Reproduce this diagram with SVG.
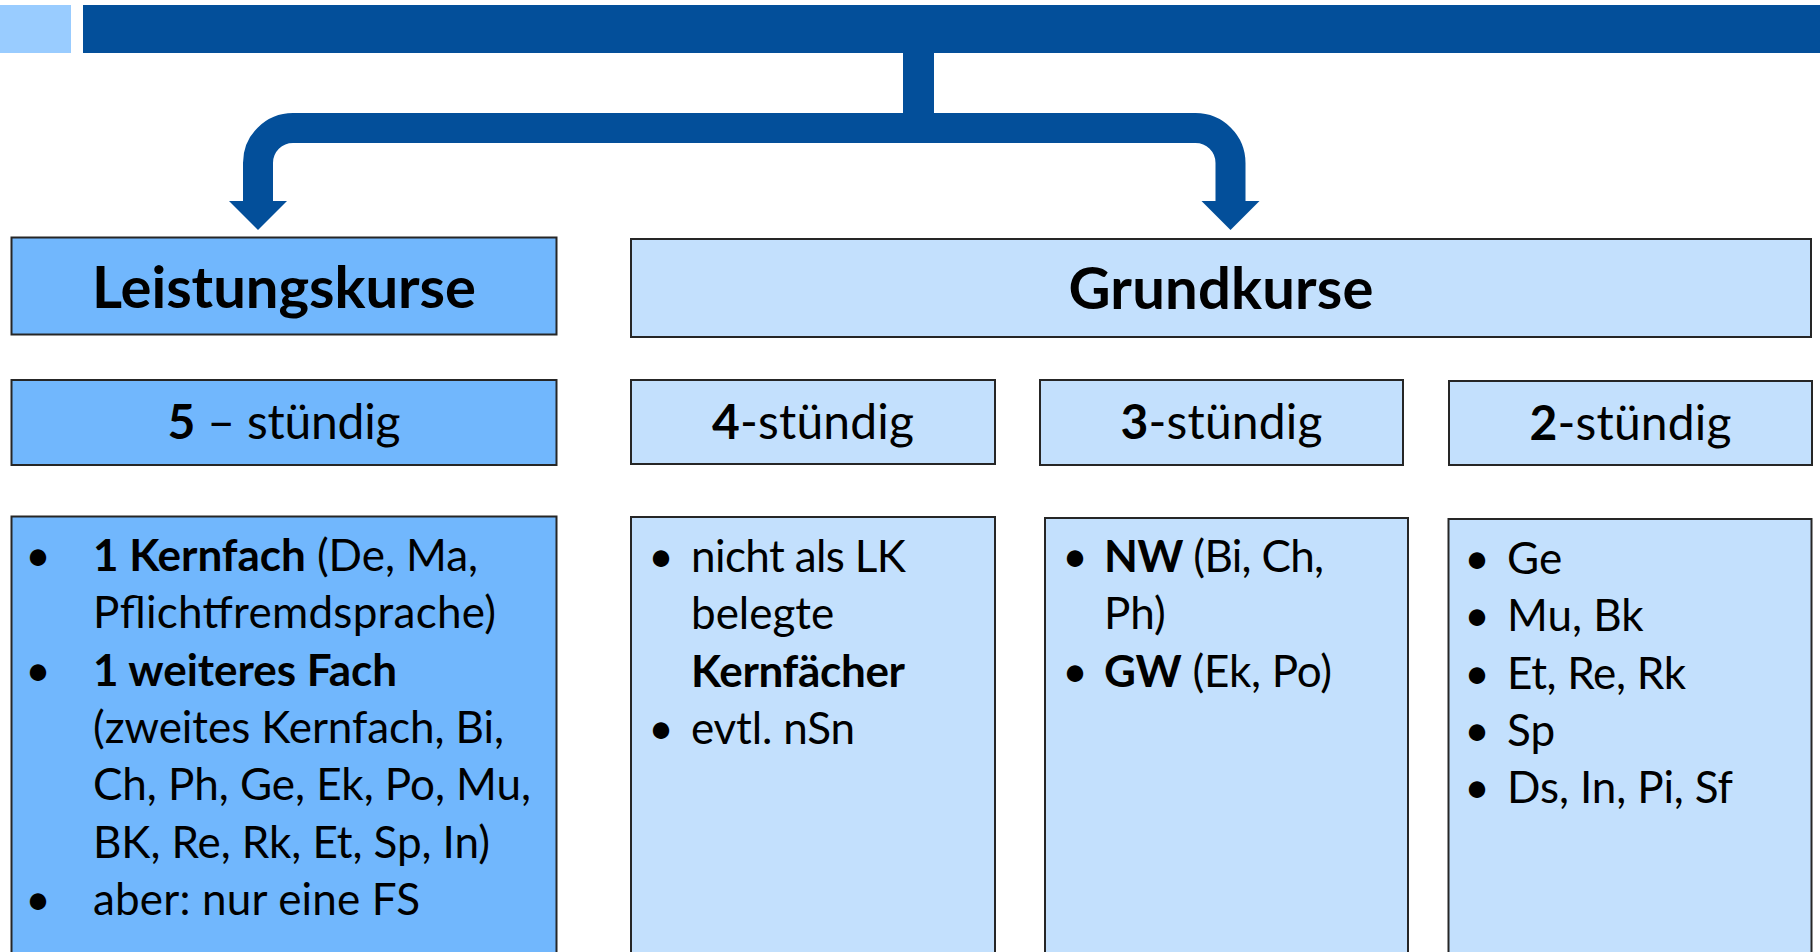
<svg xmlns="http://www.w3.org/2000/svg" width="1820" height="952" viewBox="0 0 1820 952">
  <style>
    .lk { fill: #71B7FD; stroke: #262626; stroke-width: 2; }
    .gk { fill: #C3E0FD; stroke: #262626; stroke-width: 2; }
    .t { font-family: Lato, "Liberation Sans", sans-serif; fill: #000; }
    .title { font-size: 58px; font-weight: bold; }
    .sub { font-size: 48px; }
    .body { font-size: 44px; }
    .b { font-weight: bold; }
    .conn { fill: none; stroke: #034F9A; stroke-width: 30; }
  </style>
  <defs>
    <marker id="ah" markerUnits="userSpaceOnUse" markerWidth="30" markerHeight="60" refX="0" refY="29" orient="auto" viewBox="0 0 30 58">
      <path d="M0,0 L29,29 L0,58 Z" fill="#034F9A"/>
    </marker>
  </defs>
  <rect width="1820" height="952" fill="#FFFFFF"/>

  <g id="header">
    <rect x="0" y="5" width="71" height="48" fill="#99CCFF"/>
    <rect x="83" y="5" width="1737" height="48" fill="#034F9A"/>
  </g>

  <g id="connectors">
    <rect x="903" y="50" width="31" height="80" fill="#034F9A"/>
    <path class="conn" d="M918,128 H293 A35,35 0 0 0 258,163 V201" marker-end="url(#ah)"/>
    <path class="conn" d="M918,128 H1195.5 A35,35 0 0 1 1230.5,163 V201" marker-end="url(#ah)"/>
  </g>

  <g id="leistungskurse">
    <rect class="lk" x="11.5" y="237.5" width="545" height="97"/>
    <text class="t title" x="284" y="308" text-anchor="middle" textLength="384">Leistungskurse</text>
  </g>

  <g id="grundkurse">
    <rect class="gk" x="631" y="239" width="1180" height="98"/>
    <text class="t title" x="1221" y="309" text-anchor="middle" textLength="305">Grundkurse</text>
  </g>

  <g id="lk-5">
    <rect class="lk" x="11.5" y="380" width="545" height="85"/>
    <text class="t sub" x="284" y="439" text-anchor="middle" textLength="233"><tspan class="b">5</tspan> – stündig</text>
  </g>

  <g id="gk-4">
    <rect class="gk" x="631" y="380" width="364" height="84"/>
    <text class="t sub" x="813" y="439" text-anchor="middle" textLength="202"><tspan class="b">4</tspan>-stündig</text>
  </g>

  <g id="gk-3">
    <rect class="gk" x="1040" y="380" width="363" height="85"/>
    <text class="t sub" x="1221.5" y="439" text-anchor="middle" textLength="202"><tspan class="b">3</tspan>-stündig</text>
  </g>

  <g id="gk-2">
    <rect class="gk" x="1449" y="381" width="363" height="84"/>
    <text class="t sub" x="1630.5" y="440" text-anchor="middle" textLength="202"><tspan class="b">2</tspan>-stündig</text>
  </g>

  <g id="lk-content">
    <rect class="lk" x="11.5" y="516.5" width="545" height="460"/>
    <text class="t body" x="38" y="571" text-anchor="middle">•</text>
    <text class="t body" x="93" y="571" textLength="385"><tspan class="b">1 Kernfach</tspan> (De, Ma,</text>
    <text class="t body" x="93" y="628" textLength="403">Pflichtfremdsprache)</text>
    <text class="t body" x="38" y="685.5" text-anchor="middle">•</text>
    <text class="t body b" x="93" y="685.5" textLength="304">1 weiteres Fach</text>
    <text class="t body" x="93" y="743" textLength="411">(zweites Kernfach, Bi,</text>
    <text class="t body" x="93" y="800" textLength="438">Ch, Ph, Ge, Ek, Po, Mu,</text>
    <text class="t body" x="93" y="857.5" textLength="397">BK, Re, Rk, Et, Sp, In)</text>
    <text class="t body" x="38" y="915" text-anchor="middle">•</text>
    <text class="t body" x="93" y="915" textLength="327">aber: nur eine FS</text>
  </g>

  <g id="gk4-content">
    <rect class="gk" x="631" y="517" width="364" height="460"/>
    <text class="t body" x="661" y="572" text-anchor="middle">•</text>
    <text class="t body" x="691" y="572" textLength="215">nicht als LK</text>
    <text class="t body" x="691" y="629">belegte</text>
    <text class="t body b" x="691" y="687" textLength="214">Kernfächer</text>
    <text class="t body" x="661" y="744" text-anchor="middle">•</text>
    <text class="t body" x="691" y="744" textLength="164">evtl. nSn</text>
  </g>

  <g id="gk3-content">
    <rect class="gk" x="1045" y="518" width="363" height="460"/>
    <text class="t body" x="1075" y="572" text-anchor="middle">•</text>
    <text class="t body" x="1104" y="572" textLength="220"><tspan class="b">NW</tspan> (Bi, Ch,</text>
    <text class="t body" x="1104" y="629">Ph)</text>
    <text class="t body" x="1075" y="687" text-anchor="middle">•</text>
    <text class="t body" x="1104" y="687" textLength="228"><tspan class="b">GW</tspan> (Ek, Po)</text>
  </g>

  <g id="gk2-content">
    <rect class="gk" x="1448.5" y="519" width="363" height="460"/>
    <text class="t body" x="1477" y="574" text-anchor="middle">•</text>
    <text class="t body" x="1507" y="574">Ge</text>
    <text class="t body" x="1477" y="631" text-anchor="middle">•</text>
    <text class="t body" x="1507" y="631">Mu, Bk</text>
    <text class="t body" x="1477" y="689" text-anchor="middle">•</text>
    <text class="t body" x="1507" y="689" textLength="179">Et, Re, Rk</text>
    <text class="t body" x="1477" y="746" text-anchor="middle">•</text>
    <text class="t body" x="1507" y="746">Sp</text>
    <text class="t body" x="1477" y="803" text-anchor="middle">•</text>
    <text class="t body" x="1507" y="803" textLength="226">Ds, In, Pi, Sf</text>
  </g>
</svg>
